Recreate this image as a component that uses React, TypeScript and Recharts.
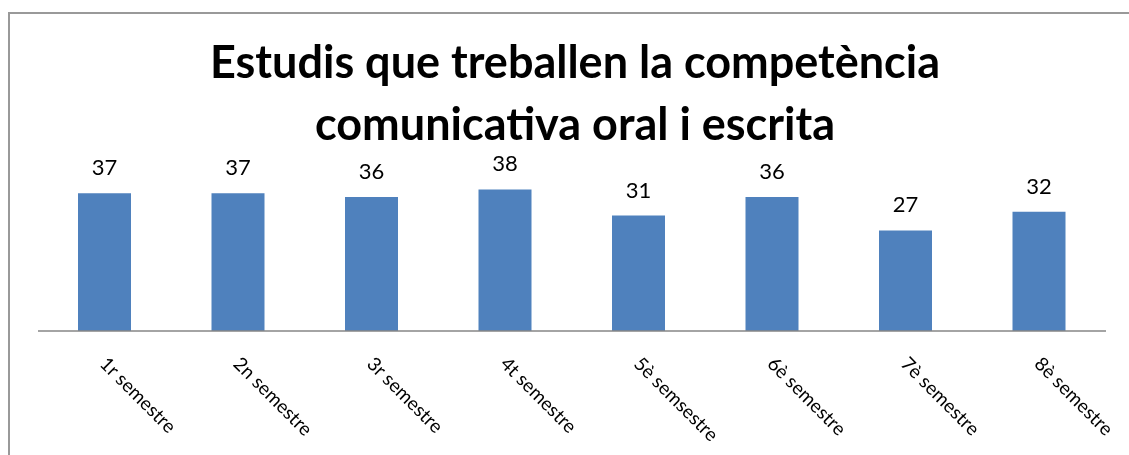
import { BarChart, Bar, XAxis, YAxis, LabelList } from 'recharts';

const semesters = [
  '1r semestre',
  '2n semestre',
  '3r semestre',
  '4t semestre',
  '5è semsestre',
  '6è semestre',
  '7è semestre',
  '8è semestre',
];
const studies = [37, 37, 36, 38, 31, 36, 27, 32];
const titleLines = ['Estudis que treballen la competència', 'comunicativa oral i escrita'];

const data = semesters.map((name, i) => ({ name, value: studies[i] }));

const FONT = 'Lato, "Open Sans", sans-serif';

function SemesterTick(props: any) {
  const { x, y, payload } = props;
  const tx = x - 6;
  const ty = y + 34;
  return (
    <text
      x={tx}
      y={ty}
      transform={`rotate(45, ${tx}, ${ty})`}
      textAnchor="start"
      fontFamily={FONT}
      fontSize={19}
      fill="#000"
    >
      {payload.value}
    </text>
  );
}

export default function App() {
  return (
    <div
      style={{
        position: 'fixed',
        left: 8,
        top: 12,
        width: 1119,
        height: 441,
        borderTop: '2px solid #999',
        borderLeft: '2px solid #999',
        overflow: 'hidden',
      }}
    >
      <svg
        width={1119}
        height={160}
        style={{ position: 'absolute', left: 0, top: 0, pointerEvents: 'none' }}
      >
        {titleLines.map((line, i) => (
          <text
            key={line}
            x={565}
            y={64 + i * 62}
            textAnchor="middle"
            fontFamily={FONT}
            fontWeight="bold"
            fontSize={45}
            fill="#000"
          >
            {line}
          </text>
        ))}
      </svg>
      <BarChart
        width={1119}
        height={441}
        data={data}
        margin={{ top: 168, right: 23, bottom: 0, left: 28 }}
      >
        <YAxis hide domain={[0, 40]} />
        <XAxis
          dataKey="name"
          height={124}
          tickLine={false}
          tickSize={0}
          tickMargin={0}
          interval={0}
          axisLine={{ stroke: '#868686', strokeWidth: 1.5 }}
          tick={<SemesterTick />}
        />
        <Bar dataKey="value" fill="#4F81BD" barSize={53} isAnimationActive={false}>
          <LabelList
            dataKey="value"
            position="top"
            offset={18}
            fontFamily={FONT}
            fontSize={22}
            fill="#000"
          />
        </Bar>
      </BarChart>
    </div>
  );
}
